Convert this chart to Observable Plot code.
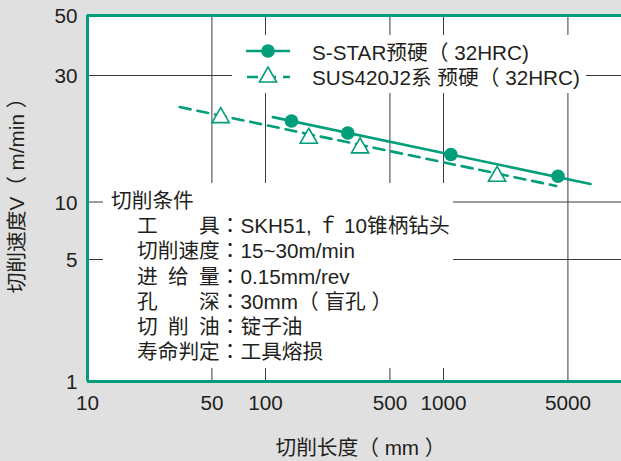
<!DOCTYPE html>
<html>
<head>
<meta charset="utf-8">
<script src="https://cdn.jsdelivr.net/npm/d3@7"></script>
<script src="https://cdn.jsdelivr.net/npm/@observablehq/plot@0.6"></script>
<style>
  html, body { margin: 0; padding: 0; background: #e0e0e0; }
  #wrap { position: relative; width: 621px; height: 461px; background: #e0e0e0; overflow: hidden;
    font-family: "Liberation Sans", Arial, "Noto Sans CJK SC", sans-serif; color: #231f20; }
  #wrap svg { position: absolute; left: 0; top: 0; }
  .legend { position: absolute; left: 232px; top: 35px; width: 354px; height: 58px; background: #fff; }
  .legend svg { position: absolute; left: 0; top: 0; }
  .legend .t { position: absolute; left: 80px; font-size: 20.7px; line-height: 25px; white-space: nowrap; }
  .cond { position: absolute; left: 103px; top: 183px; width: 350px; height: 185px; background: #fff;
    font-size: 20.7px; line-height: 25.2px; white-space: pre; }
  .cond .head { margin-left: 8px; margin-top: 5px; }
  .cond .row { margin-left: 34px; }
  .cond .colon { font-family: "Liberation Sans", "Noto Sans CJK TC", sans-serif; }
</style>
</head>
<body>
<div id="wrap"></div>
<script>
// ---- data ----
const sstarLength = [140, 290, 1100, 4400];
const sstarSpeed = [20.2, 18.2, 15.1, 12.5];
const susLength = [56, 175, 340, 2000];
const susSpeed = [20.8, 17.4, 16.0, 12.5];
const sstarFitLength = [110, 6700];
const sstarFitSpeed = [20.9, 11.7];
const susFitLength = [33, 4300];
const susFitSpeed = [22.8, 11.5];
const xTicks = [10, 50, 100, 500, 1000, 5000];
const yTicks = [1, 5, 10, 30, 50];
const gridX = [50, 100, 500, 1000, 5000];
const gridY = [5, 10, 30];
const seriesNames = ["S-STAR预硬（ 32HRC)", "SUS420J2系 预硬（ 32HRC)"];
const xTitle = "切削长度（ mm ）";
const yTitle = "切削速度V（ m/min ）";
const condTitle = "切削条件";
const condLabels = ["工　　具", "切削速度", "进\u2002给\u2002量", "孔　　深", "切\u2002削\u2002油", "寿命判定"];
const condValues = ["SKH51, ｆ 10锥柄钻头", "15~30m/min", "0.15mm/rev", "30mm（ 盲孔 ）", "锭子油", "工具熔损"];

const green = "#009e7a";
const grid = "#3a3a3a";
const ink = "#231f20";

const toRows = (xs, ys) => xs.map((x, i) => ({x, y: ys[i]}));
const sstar = toRows(sstarLength, sstarSpeed);
const sus = toRows(susLength, susSpeed);
const sstarFit = toRows(sstarFitLength, sstarFitSpeed);
const susFit = toRows(susFitLength, susFitSpeed);

const chart = Plot.plot({
  width: 621,
  height: 461,
  marginLeft: 87,
  marginRight: 0,
  marginTop: 15,
  marginBottom: 80,
  style: { background: "transparent", fontFamily: '"Liberation Sans", Arial, "Noto Sans CJK SC", sans-serif', fontSize: "20.7px", color: ink },
  x: { type: "log", domain: [10, 10000], axis: null },
  y: { type: "log", domain: [1, 5, 10, 30, 50], range: [381, 259, 201.5, 75, 15], axis: null },
  marks: [
    Plot.frame({ fill: "white", stroke: null }),
    Plot.ruleX(gridX, { stroke: grid, strokeWidth: 1 }),
    Plot.ruleY(gridY, { stroke: grid, strokeWidth: 1 }),
    Plot.ruleX([xTicks[0]], { stroke: green, strokeWidth: 3 }),
    Plot.ruleY([yTicks[0], yTicks[yTicks.length - 1]], { stroke: green, strokeWidth: 3 }),
    Plot.line(sstarFit, { x: "x", y: "y", stroke: green, strokeWidth: 2.6 }),
    Plot.line(susFit, { x: "x", y: "y", stroke: green, strokeWidth: 2.6, strokeDasharray: "11,7" }),
    Plot.dot(sstar, { x: "x", y: "y", r: 6.8, fill: green, stroke: "none" }),
    Plot.dot(sus, { x: "x", y: "y", r: 6.4, symbol: "triangle", fill: "white", stroke: green, strokeWidth: 1.6 }),
    // tick labels
    Plot.text(xTicks, { x: d => d, text: d => String(d), frameAnchor: "bottom", lineAnchor: "middle", dy: 22, fontSize: 20.7, fill: ink }),
    Plot.text(yTicks, { y: d => d, text: d => String(d), frameAnchor: "left", textAnchor: "end", dx: -10, dy: 1, fontSize: 20.7, fill: ink }),
    // axis titles
    Plot.text([xTitle], { text: d => d, frameAnchor: "bottom", lineAnchor: "middle", dy: 67, dx: 6, fontSize: 20.7, fill: ink }),
    Plot.text([yTitle], { text: d => d, frameAnchor: "left", textAnchor: "middle", lineAnchor: "middle", dx: -70, dy: -8, rotate: -90, fontSize: 20.7, fill: ink })
  ]
});

const wrap = document.getElementById("wrap");
wrap.appendChild(chart);

// legend overlay
const legend = document.createElement("div");
legend.className = "legend";
legend.innerHTML = `
<svg width="80" height="58">
  <line x1="14" x2="58" y1="16" y2="16" stroke="${green}" stroke-width="2.6"/>
  <circle cx="36" cy="16" r="6.8" fill="${green}"/>
  <line x1="14" x2="58" y1="42" y2="42" stroke="${green}" stroke-width="2.6" stroke-dasharray="11,7" stroke-dashoffset="-1"/>
  <path d="${d3.symbol(d3.symbolTriangle, Math.PI * 6.4 * 6.4)()}" transform="translate(36,42)" fill="white" stroke="${green}" stroke-width="1.6"/>
</svg>
<div class="t" style="top:5px">${seriesNames[0]}</div>
<div class="t" style="top:30px">${seriesNames[1]}</div>`;
wrap.appendChild(legend);

// conditions overlay
const cond = document.createElement("div");
cond.className = "cond";
let html = `<div class="head">${condTitle}</div>`;
condLabels.forEach((l, i) => { html += `<div class="row">${l}<span class="colon">：</span>${condValues[i]}</div>`; });
cond.innerHTML = html;
wrap.appendChild(cond);
</script>
</body>
</html>
